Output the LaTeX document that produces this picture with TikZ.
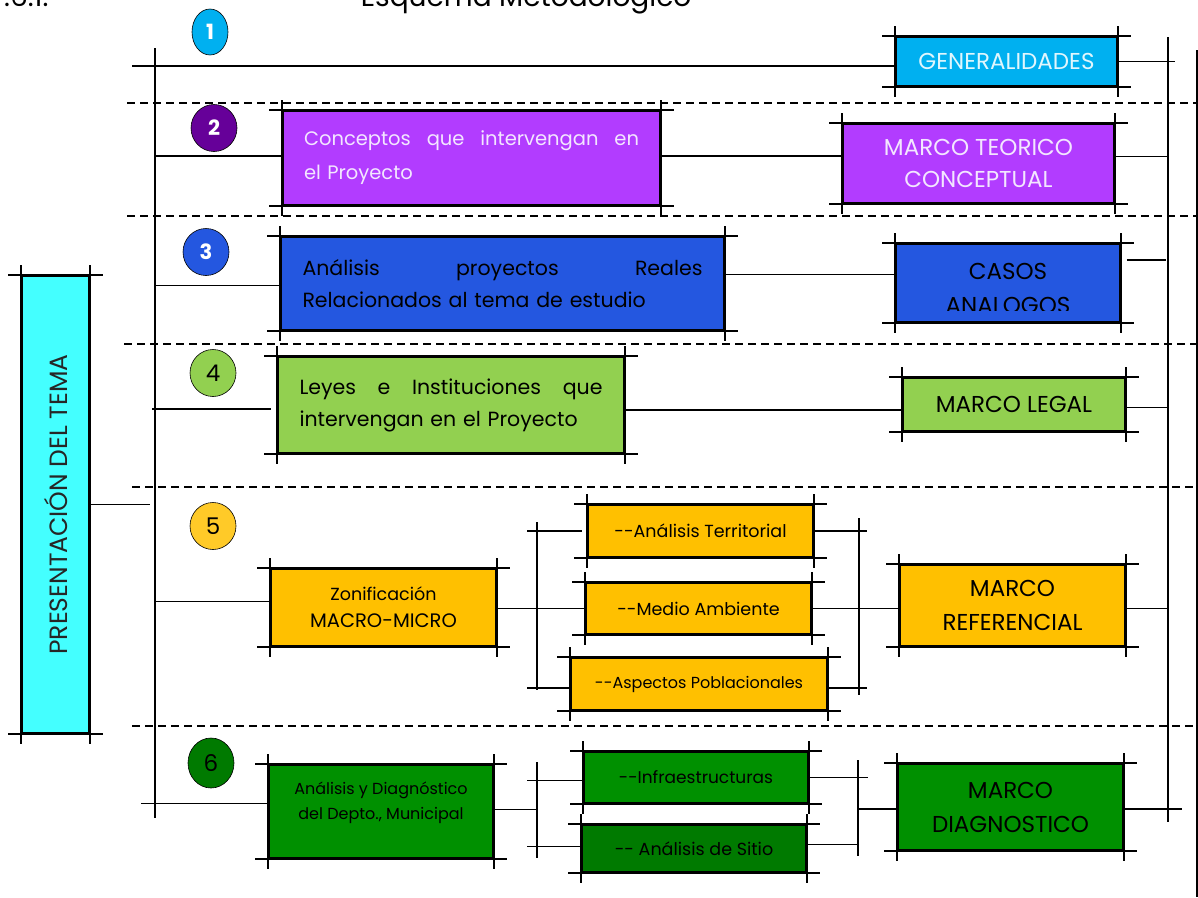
\documentclass[tikz,border=0pt]{standalone}
\usepackage{fontspec}
\setmainfont{Poppins}
\usetikzlibrary{positioning,shapes.geometric}

\definecolor{cian}{HTML}{00B0F0}
\definecolor{morado}{HTML}{B23CFF}
\definecolor{moradoosc}{HTML}{660099}
\definecolor{azul}{HTML}{2457E0}
\definecolor{verdecl}{HTML}{92D050}
\definecolor{amarillo}{HTML}{FFC000}
\definecolor{amarillocl}{HTML}{FFCA28}
\definecolor{verde}{HTML}{009000}
\definecolor{verdeosc}{HTML}{007A00}
\definecolor{turquesa}{HTML}{44FFFF}
\definecolor{blancuzco}{HTML}{F3E6FF}

\begin{document}
\begin{tikzpicture}[x=1pt, y=-1pt, line width=1.6pt]
    \tikzstyle{caja} = [rectangle, draw, line width=1.6pt, inner sep=0pt, align=center]
    \tikzstyle{circulo} = [ellipse, draw, line width=0.6pt, inner sep=0pt, minimum width=46pt, minimum height=47pt]
    \tikzstyle{corte} = [line width=1.5pt, dash pattern=on 8pt off 5pt]
    \tikzstyle{mayus} = [font=\fontsize{23}{34}\selectfont]

    \useasboundingbox (0,0) rectangle (1198,897);

    % titulo cortado arriba
    \node [anchor=base west, font=\fontsize{28}{28}\selectfont] (numero) at (0,6) {.6.1.};
    \node [anchor=base, font=\fontsize{28}{28}\selectfont] (titulo) at (526,6) {Esquema Metodologico};

    % separaciones
    \foreach \y/\xi in {103/127, 216/127, 344/124, 487/132, 726/132}
        \draw [corte] (\xi,\y) -- (1198,\y);

    % circulos
    \node [circulo, fill=cian, minimum width=36pt, minimum height=46pt, text=white, font=\fontsize{21}{21}\bfseries] (c1) at (210,32) {1};
    \node [circulo, fill=moradoosc, text=white, font=\fontsize{21}{21}\bfseries] (c2) at (214,128) {2};
    \node [circulo, fill=azul, text=white, font=\fontsize{21}{21}\bfseries] (c3) at (206,252) {3};
    \node [circulo, fill=verdecl, font=\fontsize{23}{23}\selectfont] (c4) at (213,373) {4};
    \node [circulo, fill=amarillocl, font=\fontsize{23}{23}\selectfont] (c5) at (213,526) {5};
    \node [circulo, fill=verdeosc, minimum height=50pt, font=\fontsize{23}{23}\selectfont] (c6) at (211,763) {6};

    % cajas
    \node [caja, fill=turquesa, minimum width=67pt, minimum height=457pt, text=black!85, font=\fontsize{25}{25}\selectfont] (pres) at (55.5,504.5) {\rotatebox{90}{PRESENTACIÓN DEL TEMA}};

    \node [caja, fill=cian, minimum width=221pt, minimum height=49pt, text=cian!12, mayus] (gen) at (1006.5,61.5) {GENERALIDADES};

    \node [caja, fill=morado, minimum width=377pt, minimum height=94pt, text width=335pt, align=left, text=blancuzco, font=\fontsize{19.5}{34}\selectfont] (conceptos) at (471.5,158) {Conceptos \hfill que \hfill intervengan \hfill en\\el Proyecto};
    \node [caja, fill=morado, minimum width=271pt, minimum height=79pt, text=blancuzco, font=\fontsize{23}{32}\selectfont] (mteo) at (978.5,163.5) {MARCO TEORICO\\CONCEPTUAL};

    \node [caja, fill=azul, minimum width=443pt, minimum height=93pt, text width=400pt, align=left, font=\fontsize{20.5}{32}\selectfont] (analisis) at (502.5,283.5) {Análisis \hfill proyectos \hfill Reales\\Relacionados al tema de estudio};
    \node [caja, fill=azul, minimum width=224pt, minimum height=78pt,
        path picture={
            \clip (path picture bounding box.north west) rectangle ([yshift=12pt]path picture bounding box.south east);
            \node [align=center, mayus] at ([yshift=-5pt]path picture bounding box.center) {CASOS\\ANALOGOS};
        }] (casos) at (1008,283) {};

    \node [caja, fill=verdecl, minimum width=346pt, minimum height=96pt, text width=303pt, align=left, font=\fontsize{20.5}{32}\selectfont] (leyes) at (451,405) {Leyes \hfill e \hfill Instituciones \hfill que\\intervengan en el Proyecto};
    \node [caja, fill=verdecl, minimum width=222pt, minimum height=53pt, mayus] (mlegal) at (1014,404.5) {MARCO LEGAL};

    \node [caja, fill=amarillo, minimum width=225pt, minimum height=77pt, font=\fontsize{19.5}{27}\selectfont] (zonif) at (383.5,607.5) {{\fontsize{17.5}{27}\selectfont Zonificación}\\MACRO-MICRO};
    \node [caja, fill=amarillo, minimum width=225pt, minimum height=52pt, font=\fontsize{17.5}{17}\selectfont] (terr) at (700.5,531) {-{}-Análisis Territorial};
    \node [caja, fill=amarillo, minimum width=225pt, minimum height=51pt, font=\fontsize{17.5}{17}\selectfont] (medio) at (698.5,608.5) {-{}-Medio Ambiente};
    \node [caja, fill=amarillo, minimum width=256pt, minimum height=52pt, font=\fontsize{16}{16}\selectfont] (pobl) at (699,684) {-{}-Aspectos Poblacionales};
    \node [caja, fill=amarillo, minimum width=225pt, minimum height=81pt, mayus] (mref) at (1012.5,605.5) {MARCO\\REFERENCIAL};

    \node [caja, fill=verde, minimum width=224pt, minimum height=93pt] (diag) at (381,811.5) {};
    \node [align=center, inner sep=0pt, font=\fontsize{16}{25}\selectfont] (diagtexto) at ([yshift=9pt]diag.center) {Análisis y Diagnóstico\\del Depto., Municipal};
    \node [caja, fill=verde, minimum width=224pt, minimum height=51pt, font=\fontsize{17}{17}\selectfont] (infra) at (696,777.5) {-{}-Infraestructuras};
    \node [caja, fill=verdeosc, minimum width=224pt, minimum height=47pt, font=\fontsize{17.5}{17}\selectfont] (sitio) at (694,848.5) {-{}- Análisis de Sitio};
    \node [caja, fill=verde, minimum width=225pt, minimum height=86pt, mayus] (mdiag) at (1010.5,807) {MARCO\\DIAGNOSTICO};

    % esquinas cruzadas
    \foreach \n in {pres,gen,conceptos,mteo,analisis,casos,leyes,mlegal,zonif,terr,medio,pobl,mref,diag,infra,sitio,mdiag}
        \draw ([xshift=-13pt]\n.north west) -- ([xshift=13pt]\n.north east)
              ([xshift=-13pt]\n.south west) -- ([xshift=13pt]\n.south east)
              ([yshift=10pt]\n.north west) -- ([yshift=-10pt]\n.south west)
              ([yshift=10pt]\n.north east) -- ([yshift=-10pt]\n.south east);

    % ejes verticales
    \coordinate (spineT) at (155,48);
    \coordinate (spineB) at (155,818);
    \coordinate (rT) at (1168,37);
    \coordinate (rB) at (1168,822);
    \coordinate (bordeT) at (1197,50);
    \coordinate (bordeB) at (1197,897);
    \coordinate (ini1) at (132,66);
    \draw (spineT) -- (spineB);
    \draw (rT) -- (rB);
    \draw [line width=2.5pt] (bordeT) -- (bordeB);

    % presentacion
    \draw (pres.east) -- ([xshift=-5pt]pres.east -| spineT);

    % 1
    \draw (ini1) -- (ini1 -| gen.west);
    \draw (gen.east) -- ([xshift=7pt]gen.east -| rT);
    % 2
    \draw ([yshift=2pt]conceptos.west -| spineT) -- ([yshift=2pt]conceptos.west);
    \draw ([yshift=2pt]conceptos.east) -- ([yshift=2pt]conceptos.east -| mteo.west);
    \draw ([yshift=7pt]mteo.east) -- ([yshift=7pt]mteo.east -| rT);
    % 3
    \draw ([yshift=-2pt]analisis.west -| spineT) -- ([yshift=-2pt]analisis.west);
    \draw ([yshift=9pt]analisis.east) -- ([yshift=9pt]analisis.east -| casos.west);
    \draw ([xshift=6pt,yshift=23pt]casos.east) -- ([xshift=-2pt,yshift=23pt]casos.east -| rT);
    % 4
    \draw ([xshift=-3pt,yshift=-4pt]leyes.west -| spineT) -- ([xshift=-6pt,yshift=-4pt]leyes.west);
    \draw ([yshift=-5pt]leyes.east) -- ([yshift=-5pt]leyes.east -| mlegal.west);
    \draw ([yshift=-3pt]mlegal.east) -- ([yshift=-3pt]mlegal.east -| rT);
    % 5
    \coordinate (brL5) at (537,522);
    \coordinate (brL5b) at (537,690);
    \coordinate (brR5) at (859,518);
    \coordinate (brR5b) at (859,695);
    \draw ([yshift=6pt]zonif.west -| spineT) -- ([yshift=6pt]zonif.west);
    \draw ([yshift=-1pt]zonif.east) -- ([yshift=-1pt]zonif.east -| brL5);
    \draw (brL5) -- (brL5b);
    \draw ([xshift=-10pt]terr.west -| brL5) -- ([xshift=-5pt]terr.west);
    \draw (medio.west -| brL5) -- (medio.west);
    \draw ([xshift=-10pt,yshift=-4pt]pobl.west -| brL5) -- ([yshift=-4pt]pobl.west);
    \draw (brR5) -- (brR5b);
    \draw (terr.east) -- ([xshift=8pt]terr.east -| brR5);
    \draw (medio.east) -- (medio.east -| mref.west);
    \draw ([yshift=-4pt]pobl.east) -- ([xshift=8pt,yshift=-4pt]pobl.east -| brR5);
    \draw ([yshift=-3pt]mref.east) -- ([yshift=-3pt]mref.east -| rT);
    % 6
    \coordinate (brL6) at (537,762);
    \coordinate (brL6b) at (537,858);
    \coordinate (brR6) at (858,760);
    \coordinate (brR6b) at (858,856);
    \draw ([xshift=-14pt,yshift=8pt]diag.west -| spineT) -- ([yshift=8pt]diag.west);
    \draw ([yshift=2pt]diag.east) -- ([yshift=2pt]diag.east -| brL6);
    \draw (brL6) -- (brL6b);
    \draw ([xshift=-10pt,yshift=-3pt]infra.west -| brL6) -- ([yshift=-3pt]infra.west);
    \draw ([xshift=-10pt,yshift=2pt]sitio.west -| brL6) -- ([yshift=2pt]sitio.west);
    \draw (brR6) -- (brR6b);
    \draw (infra.east) -- ([xshift=10pt]infra.east -| brR6);
    \draw ([yshift=4pt]sitio.east) -- ([yshift=4pt]sitio.east -| brR6);
    \draw ([yshift=-2pt]mdiag.west -| brR6) -- ([yshift=-2pt]mdiag.west);
    \draw ([yshift=-2pt]mdiag.east) -- ([xshift=14pt,yshift=-2pt]mdiag.east -| rT);
\end{tikzpicture}
\end{document}
